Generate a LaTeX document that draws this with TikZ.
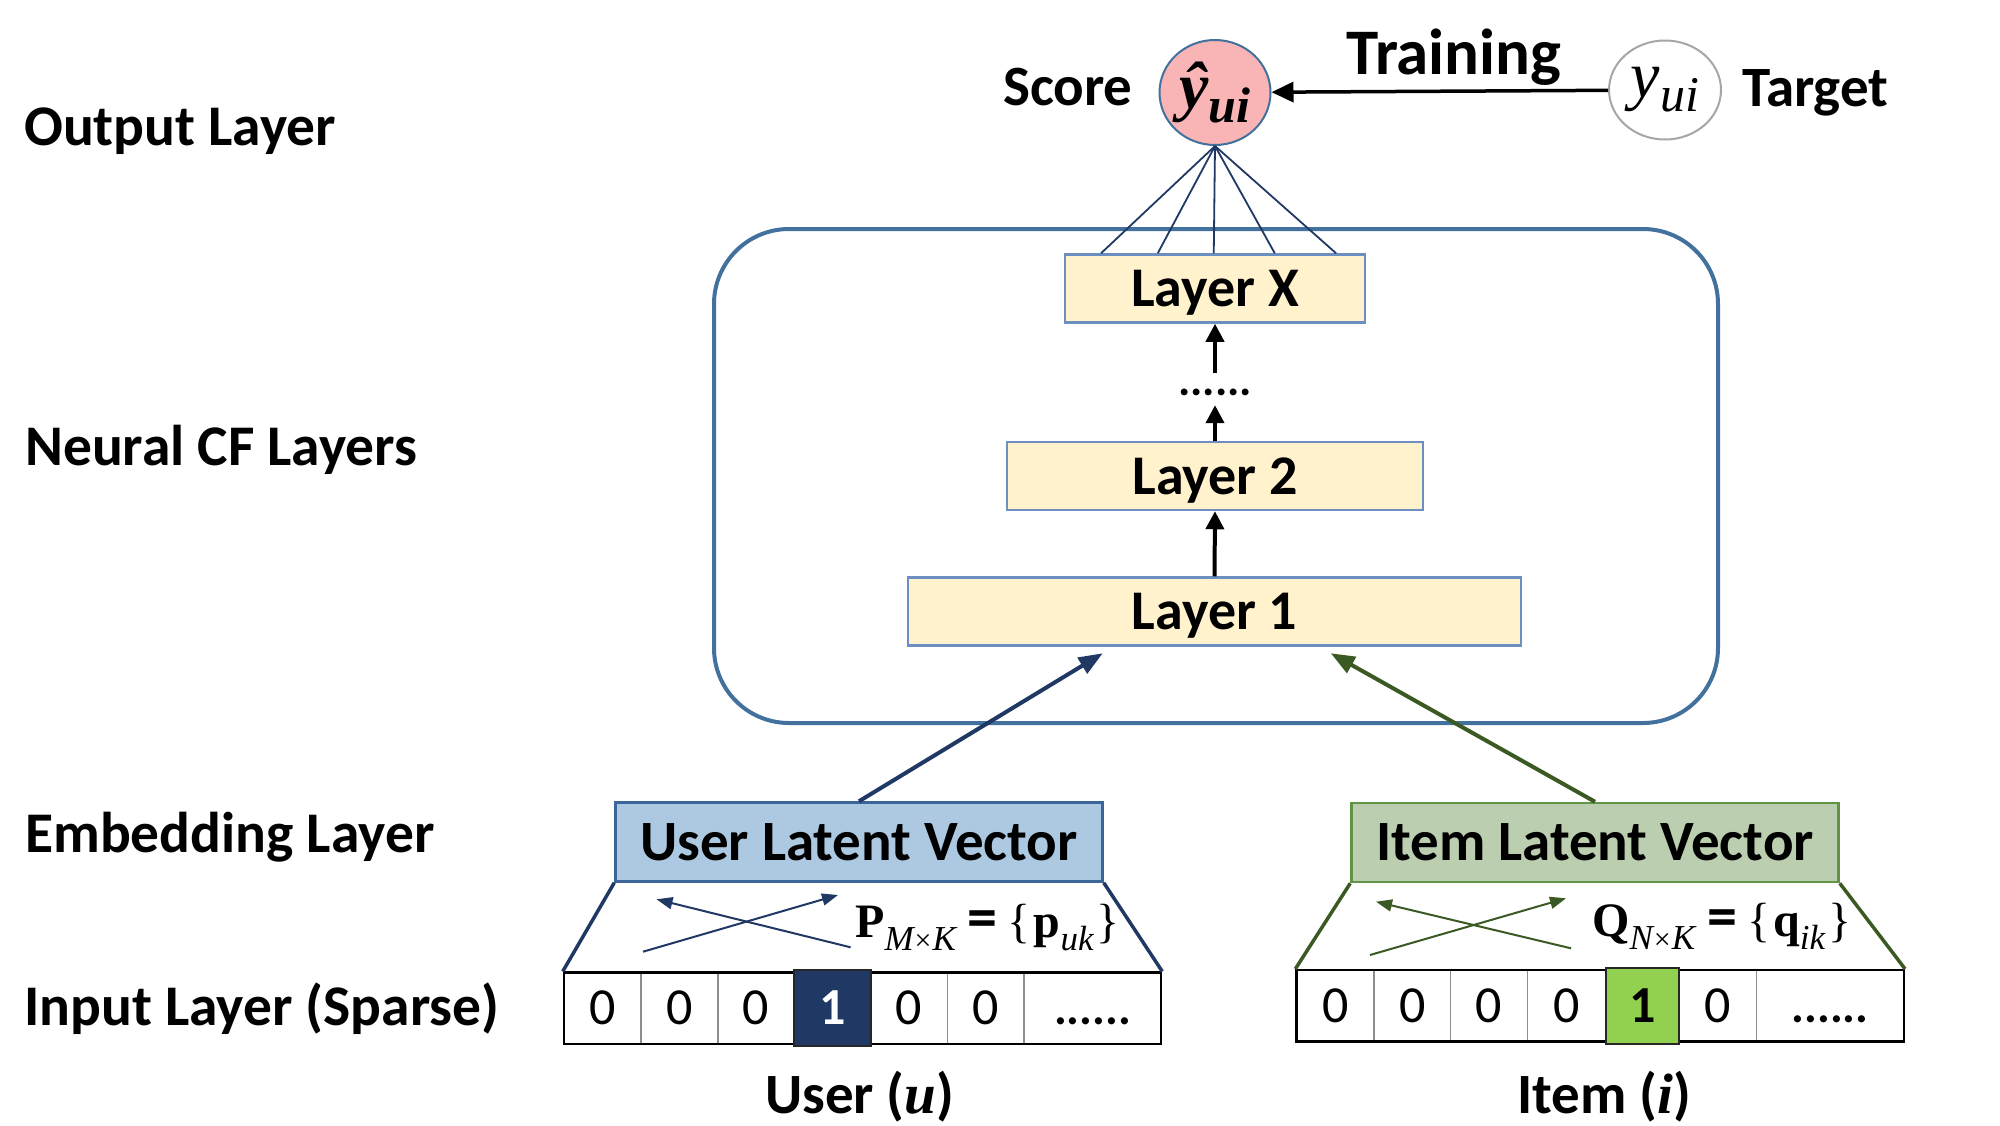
\documentclass[tikz,border=0pt]{standalone}
\usepackage{fontspec}
\setmainfont{Carlito}
\newfontfamily\tms{Liberation Serif}
\usetikzlibrary{shapes.geometric,arrows.meta,calc}
\definecolor{ncfblue}{HTML}{41719C}
\definecolor{layerfill}{HTML}{FFF2CC}
\definecolor{layerline}{HTML}{6A8FC0}
\definecolor{scorefill}{HTML}{F9B5B5}
\definecolor{targetline}{HTML}{A6A6A6}
\definecolor{userfill}{HTML}{ADC9E1}
\definecolor{userline}{HTML}{3A6698}
\definecolor{itemfill}{HTML}{BBCFB0}
\definecolor{itemline}{HTML}{629445}
\definecolor{navy}{HTML}{203864}
\definecolor{dgreen}{HTML}{3B5A23}
\definecolor{onecellblue}{HTML}{1F3864}
\definecolor{onecellgreen}{HTML}{92D050}
\begin{document}
\begin{tikzpicture}[x=1pt,y=-1pt,
  lbl/.style={font=\fontsize{57.5}{60}\selectfont\bfseries, inner sep=0pt, anchor=base west},
  layerbox/.style={draw=layerline, fill=layerfill, line width=2.5pt, minimum height=68pt, inner sep=0pt, text height=36pt, text depth=0pt, font=\fontsize{56}{60}\selectfont\bfseries},
  latent/.style={line width=2.5pt, minimum height=79pt, minimum width=487pt, inner sep=0pt, text height=36.5pt, text depth=0pt, font=\fontsize{57}{60}\selectfont\bfseries},
  cell/.style={draw=black!45, line width=1.2pt, minimum height=71.5pt, inner sep=0pt, text height=33pt, text depth=0pt, font=\fontsize{52}{52}\selectfont},
  onecell/.style={cell, line width=2pt, draw=black!85, minimum height=76pt, font=\fontsize{52}{52}\selectfont\bfseries},
  rowframe/.style={draw=black, line width=2.5pt, minimum height=71.5pt, inner sep=0pt},
  blackarrow/.style={line width=4pt, -{Triangle[length=18pt,width=18pt]}},
  embarrow/.style={line width=4pt, -{Triangle[length=24pt,width=18pt]}},
  crossarrow/.style={line width=2pt, -{Triangle[length=16pt,width=12pt]}},
  fan/.style={navy, line width=1.8pt},
  trap/.style={line width=3.5pt},
  formula/.style={inner sep=0pt, anchor=base west}
]
\useasboundingbox (0,0) rectangle (2000,1125);

% left labels
\node[lbl] (outlbl) at (24,145.7) {Output Layer};
\node[lbl] (ncflbl) at (25,465) {Neural CF Layers};
\node[lbl] (emblbl) at (25,852.3) {Embedding Layer};
\node[lbl] (inlbl) at (24,1025.7) {Input Layer (Sparse)};

% output layer
\node[ellipse, draw=ncfblue, fill=scorefill, line width=2pt, minimum width=111pt, minimum height=105pt, inner sep=0pt] (score) at (1215,92.5)
  {\tms\bfseries\itshape\fontsize{66}{66}\selectfont ŷ\raisebox{-14pt}{\fontsize{50}{50}\selectfont ui}};
\node[ellipse, draw=targetline, fill=white, line width=2pt, minimum width=112pt, minimum height=99pt, inner sep=0pt] (target) at (1665,90)
  {\tms\itshape\fontsize{66}{66}\selectfont y\raisebox{-14pt}{\fontsize{50}{50}\selectfont ui}};
\node[lbl, font=\fontsize{57}{60}\selectfont\bfseries] (scorelbl) at (1003,105) {Score};
\node[lbl, font=\fontsize{57}{60}\selectfont\bfseries] (targetlbl) at (1742,106) {Target};
\node[lbl, font=\fontsize{65}{70}\selectfont\bfseries] (traininglbl) at (1346,74) {Training};
\draw[line width=3.5pt, -{Triangle[length=22pt,width=20pt]}] (target) -- (score);

% neural CF block
\node[draw=ncfblue, line width=4pt, rounded corners=75pt, minimum width=1004pt, minimum height=494pt, inner sep=0pt] (ncf) at (1216,476) {};
\node[layerbox, minimum width=300pt] (lx) at (1215,288.5) {Layer X};
\node[layerbox, minimum width=416pt] (l2) at (1215,476) {Layer 2};
\node[layerbox, minimum width=613pt] (l1) at (1214.5,611.5) {Layer 1};
\node[inner sep=0pt, minimum height=32pt, text height=0pt, text depth=0pt, font=\fontsize{46}{46}\selectfont\bfseries] (dots) at (1215,389) {\raisebox{-6pt}{......}};
\draw[blackarrow] (l1.north) -- (l2.south);
\draw[blackarrow] (l2.north) -- (dots.south);
\draw[blackarrow] (dots.north) -- (lx.south);

% fan lines to score
\foreach \dx [count=\i] in {37.3,94,150,211,272.3}{
  \coordinate (f\i) at ($(lx.north west)+(\dx,0)$);
  \draw[fan] (score.south) -- (f\i);
}

% embedding layer
\node[latent, draw=userline, fill=userfill] (ulv) at (859,842) {User Latent Vector};
\node[latent, draw=itemline, fill=itemfill] (ilv) at (1595,842.5) {Item Latent Vector};
\coordinate (uin) at ($(l1.south west)+(196,6.5)$);
\coordinate (iin) at ($(l1.south west)+(424,6.5)$);
\draw[embarrow, navy] (ulv.north) -- (uin);
\draw[embarrow, dgreen] (ilv.north) -- (iin);

% user input row
\node[cell, minimum width=77pt] (u1) at (602.5,1008.4) {0};
\node[cell, minimum width=77pt] (u2) at (679.5,1008.4) {0};
\node[cell, minimum width=76.5pt] (u3) at (756,1008.4) {0};
\node[cell, minimum width=76.5pt] (u5) at (909,1008.4) {0};
\node[cell, minimum width=76.5pt] (u6) at (985.5,1008.4) {0};
\node[cell, minimum width=137pt, font=\fontsize{48}{48}\selectfont\bfseries] (u7) at (1092.5,1008.4) {......};
\node[rowframe, minimum width=597pt] (urow) at (862.5,1008.4) {};
\node[onecell, fill=onecellblue, text=white, minimum width=76.5pt] (u4) at (832.5,1008) {1};

% item input row
\node[cell, minimum width=77.4pt] (i1) at (1335.3,1005.9) {0};
\node[cell, minimum width=76.5pt] (i2) at (1412.3,1005.9) {0};
\node[cell, minimum width=77pt] (i3) at (1489,1005.9) {0};
\node[cell, minimum width=78.4pt] (i4) at (1566.6,1005.9) {0};
\node[cell, minimum width=77pt] (i6) at (1717.8,1005.9) {0};
\node[cell, minimum width=147.5pt, font=\fontsize{48}{48}\selectfont\bfseries] (i7) at (1830,1005.9) {......};
\node[rowframe, minimum width=607.2pt] (irow) at (1600.2,1005.9) {};
\node[onecell, fill=onecellgreen, text=black, minimum width=73.5pt] (i5) at (1642.5,1006.3) {1};

% trapezoid sides
\draw[trap, navy] (ulv.south west) -- (urow.north west);
\draw[trap, navy] (ulv.south east) -- (urow.north east);
\draw[trap, dgreen] (ilv.south west) -- (irow.north west);
\draw[trap, dgreen] (ilv.south east) -- (irow.north east);

% crossing arrows
\coordinate (ua1) at (643,951.7); \coordinate (ua2) at (838,895);
\coordinate (ub1) at (850.6,947.3); \coordinate (ub2) at (656.5,899.3);
\coordinate (ia1) at (1370,955); \coordinate (ia2) at (1566,898.3);
\coordinate (ib1) at (1571,948.3); \coordinate (ib2) at (1376,901.7);
\draw[crossarrow, navy] (ua1) -- (ua2);
\draw[crossarrow, navy] (ub1) -- (ub2);
\draw[crossarrow, dgreen] (ia1) -- (ia2);
\draw[crossarrow, dgreen] (ib1) -- (ib2);

% formulas
\node[formula] (pform) at (855,937.3) {{\fontsize{48}{48}\selectfont\tms\bfseries P}\raisebox{-13pt}{\fontsize{35}{35}\selectfont\tms\itshape M\kern1pt{\upshape\fontsize{30}{30}\selectfont ×}\kern1pt K}\hspace{12pt}{\fontsize{60}{60}\selectfont\bfseries =}\hspace{10pt}{\fontsize{48}{48}\selectfont\tms\{}\hspace{3pt}{\fontsize{48}{48}\selectfont\tms\bfseries p}\raisebox{-13pt}{\fontsize{35}{35}\selectfont\tms\itshape uk}\hspace{3pt}{\fontsize{48}{48}\selectfont\tms\}}};
\node[formula] (qform) at (1592,936) {{\fontsize{48}{48}\selectfont\tms\bfseries Q}\raisebox{-13pt}{\fontsize{35}{35}\selectfont\tms\itshape N\kern1pt{\upshape\fontsize{30}{30}\selectfont ×}\kern1pt K}\hspace{12pt}{\fontsize{60}{60}\selectfont\bfseries =}\hspace{10pt}{\fontsize{48}{48}\selectfont\tms\{}\hspace{3pt}{\fontsize{48}{48}\selectfont\tms\bfseries q}\raisebox{-13pt}{\fontsize{35}{35}\selectfont\tms\itshape ik}\hspace{3pt}{\fontsize{48}{48}\selectfont\tms\}}};

% bottom labels
\node[lbl, font=\fontsize{57}{60}\selectfont\bfseries] (userlbl) at (765,1113.3) {User ({\tms\bfseries\itshape u})};
\node[lbl, font=\fontsize{57}{60}\selectfont\bfseries] (itemlbl) at (1517,1113.3) {Item ({\tms\bfseries\itshape i})};
\end{tikzpicture}
\end{document}
